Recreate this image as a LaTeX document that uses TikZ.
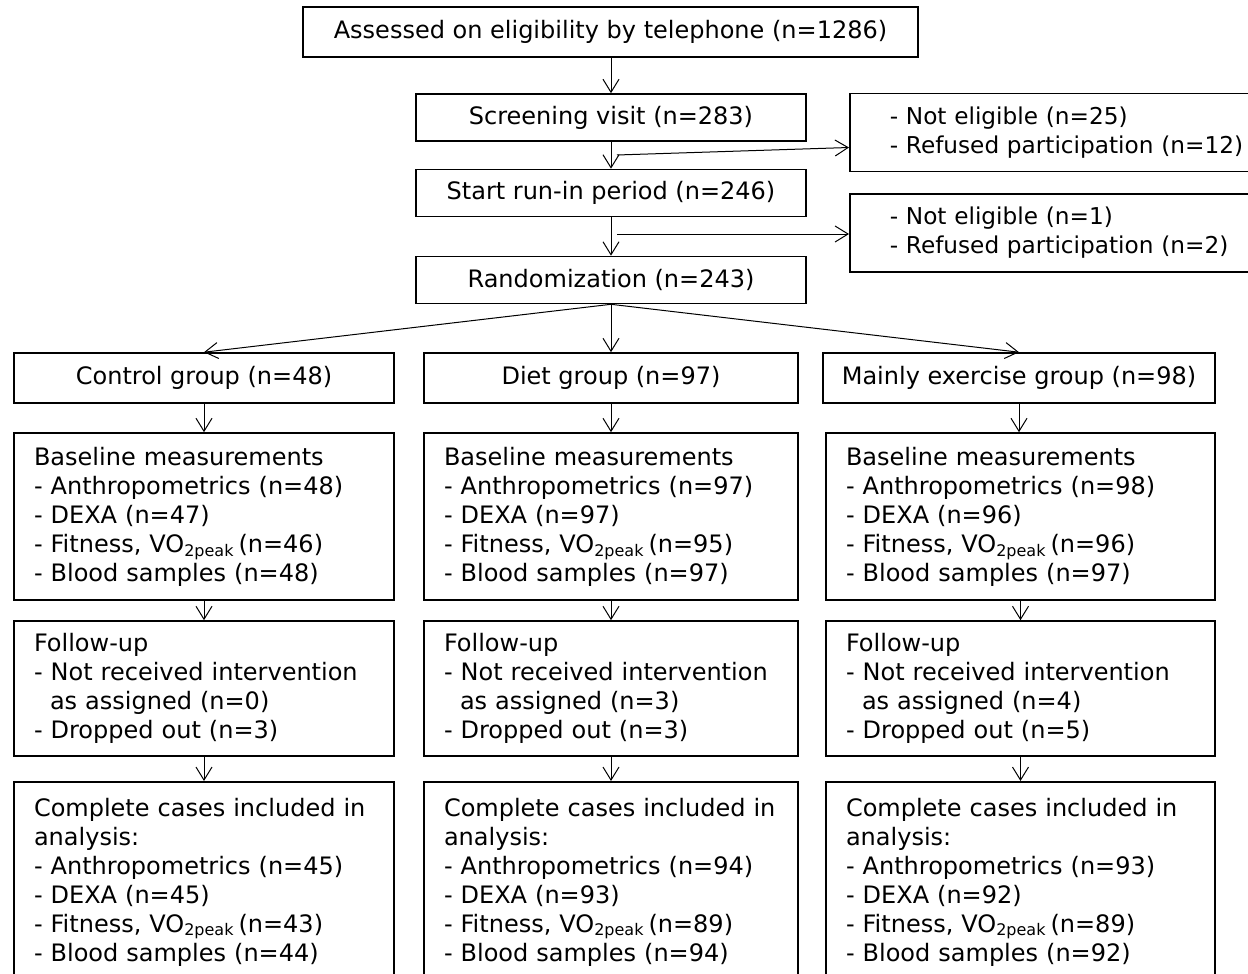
\documentclass[tikz,border=0pt]{standalone}
\usepackage{fontspec}
\setmainfont{DejaVu Sans}
\usetikzlibrary{arrows.meta,calc}
\newcommand{\fs}{\fontsize{12pt}{14.5pt}\selectfont}
\newcommand{\fsx}{\fontsize{11.6pt}{14.5pt}\selectfont}
\newcommand{\vo}{VO\textsubscript{2peak}\kern2pt}
\newcommand{\cont}{\hspace*{8pt}}

\begin{document}
\begin{tikzpicture}[x=0.5pt, y=-0.5pt,
      box/.style={draw, line width=0.8pt, inner sep=0pt, font=\fs},
      stage/.style={box, minimum width=195pt, minimum height=23.5pt},
      excl/.style={box, font=\fsx, anchor=west, align=left, inner xsep=20pt,
                   text width=185pt, minimum height=39pt},
      colbox/.style={box, align=left, inner xsep=10pt},
      ctrlcol/.style={colbox, text width=170pt},
      dietcol/.style={colbox, text width=167pt},
      exercol/.style={colbox, text width=174.5pt},
      ccbox/.style={anchor=north, inner ysep=8pt},
      arr/.style={-{Straight Barb[length=6.5pt,width=8pt]}, line width=0.5pt}
    ]
      \useasboundingbox (0,0) rectangle (1248,974);
      \clip (0,0) rectangle (1248,974);
      \fill[white] (0,0) rectangle (1248,974);

      % Enrolment
      \node[box, minimum width=307.5pt, minimum height=25pt] (tel) at (610.5,32)
        {Assessed on eligibility by telephone (n=1286)};
      \node[stage] (screen) at (611,117.5) {Screening visit (n=283)};
      \node[stage] (runin) at (611,193) {Start run-in period (n=246)};
      \node[stage] (rand) at (611,280) {Randomization (n=243)};

      % Excluded
      \node[excl] (excl1) at (849,132.5)
        {- Not eligible (n=25)\\- Refused participation (n=12)};
      \node[excl] (excl2) at (849,233)
        {- Not eligible (n=1)\\- Refused participation (n=2)};

      % Groups
      \node[box, minimum width=190pt, minimum height=25pt] (ctrl) at (204,378)
        {Control group (n=48)};
      \node[box, minimum width=187pt, minimum height=25pt] (diet) at (611,378)
        {Diet group (n=97)};
      \node[box, minimum width=196pt, minimum height=25pt] (exer) at (1019,378)
        {Mainly exercise group (n=98)};

      % Baseline
      \node[ctrlcol, minimum height=83.5pt] (ctrl-base) at (204,516.5)
        {Baseline measurements\\- Anthropometrics (n=48)\\- DEXA (n=47)\\
         - Fitness, \vo(n=46)\\- Blood samples (n=48)};
      \node[dietcol, minimum height=83.5pt] (diet-base) at (611,516.5)
        {Baseline measurements\\- Anthropometrics (n=97)\\- DEXA (n=97)\\
         - Fitness, \vo(n=95)\\- Blood samples (n=97)};
      \node[exercol, minimum height=83.5pt] (exer-base) at (1020.5,516.5)
        {Baseline measurements\\- Anthropometrics (n=98)\\- DEXA (n=96)\\
         - Fitness, \vo(n=96)\\- Blood samples (n=97)};

      % Follow-up
      \node[ctrlcol, minimum height=67.5pt] (ctrl-fu) at (204,688.5)
        {Follow-up\\- Not received intervention\\\cont as assigned (n=0)\\
         - Dropped out (n=3)};
      \node[dietcol, minimum height=67.5pt] (diet-fu) at (611,688.5)
        {Follow-up\\- Not received intervention\\\cont as assigned (n=3)\\
         - Dropped out (n=3)};
      \node[exercol, minimum height=67.5pt] (exer-fu) at (1020.5,688.5)
        {Follow-up\\- Not received intervention\\\cont as assigned (n=4)\\
         - Dropped out (n=5)};

      % Analysis
      \node[ctrlcol, ccbox] (ctrl-cc) at (204,781)
        {Complete cases included in\\analysis:\\- Anthropometrics (n=45)\\
         - DEXA (n=45)\\- Fitness, \vo(n=43)\\- Blood samples (n=44)};
      \node[dietcol, ccbox] (diet-cc) at (611,781)
        {Complete cases included in\\analysis:\\- Anthropometrics (n=94)\\
         - DEXA (n=93)\\- Fitness, \vo(n=89)\\- Blood samples (n=94)};
      \node[exercol, ccbox] (exer-cc) at (1020.5,781)
        {Complete cases included in\\analysis:\\- Anthropometrics (n=93)\\
         - DEXA (n=92)\\- Fitness, \vo(n=89)\\- Blood samples (n=92)};

      % Arrows
      \draw[arr] (tel.south -| screen) -- (screen.north);
      \draw[arr] (screen) -- (runin);
      \draw[arr] (runin) -- (rand);
      \coordinate (split1) at (617,155);
      \coordinate (split2) at (617,234);
      \draw[arr] (split1) -- ($(excl1.west)+(0,15)$);
      \draw[arr] (split2) -- (split2 -| excl1.west);
      \draw[arr] (rand.south) -- (ctrl.north);
      \draw[arr] (rand.south) -- (diet.north);
      \draw[arr] (rand.south) -- (exer.north);
      \foreach \g in {ctrl,diet,exer} {
        \draw[arr] (\g.south) -- (\g.south |- \g-base.north);
        \draw[arr] (\g-base.south) -- (\g-fu.north);
        \draw[arr] (\g-fu.south) -- (\g-cc.north);
      }
    \end{tikzpicture}
\end{document}
